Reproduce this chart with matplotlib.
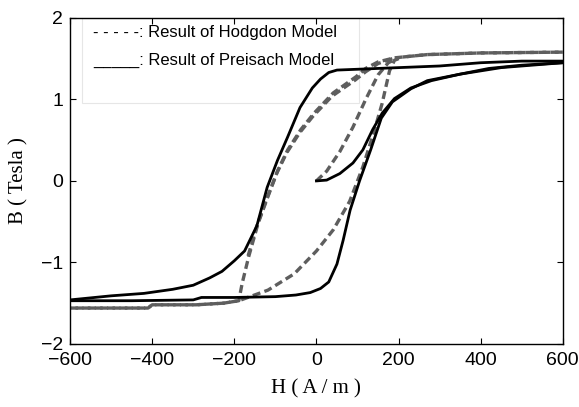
import numpy as np
import matplotlib
matplotlib.use("Agg")
import matplotlib.pyplot as plt
from matplotlib.patches import Rectangle

plt.rcParams['font.family'] = ['Liberation Sans']

# Preisach model (solid black)
pre_desc_h = [600, 500, 400, 300, 200, 100, 50, 30, 10, -10, -40, -70, -95, -120,
              -145, -175, -200, -230, -260, -300, -350, -420, -500, -600]
pre_desc_b = [1.47, 1.47, 1.45, 1.41, 1.39, 1.37, 1.36, 1.33, 1.25, 1.14, 0.90, 0.54,
              0.25, -0.08, -0.55, -0.86, -0.98, -1.11, -1.19, -1.28, -1.33, -1.38,
              -1.41, -1.46]
pre_asc_h = [-600, -450, -300, -280, -200, -100, -50, -15, 10, 30, 50, 65, 82, 105,
             132, 158, 185, 230, 270, 350, 420, 500, 600]
pre_asc_b = [-1.47, -1.47, -1.46, -1.43, -1.43, -1.42, -1.40, -1.37, -1.32, -1.24,
             -1.02, -0.73, -0.36, 0.0, 0.38, 0.77, 0.97, 1.13, 1.23, 1.31, 1.38,
             1.42, 1.45]
pre_init_h = [0, 25, 57, 89, 113, 137, 160, 190, 230, 280, 350, 450, 600]
pre_init_b = [0.0, 0.01, 0.09, 0.22, 0.38, 0.63, 0.83, 1.01, 1.14, 1.23, 1.31, 1.39, 1.45]

# Hodgdon model (grey dashed)
hod_desc_h = [600, 400, 270, 190, 150, 120, 97, 41, -6, -38, -70, -94, -118, -142,
              -165, -181, -189, -226, -293, -400, -410, -600]
hod_desc_b = [1.58, 1.57, 1.55, 1.51, 1.46, 1.38, 1.28, 1.08, 0.83, 0.63, 0.38, 0.13,
              -0.19, -0.52, -0.93, -1.26, -1.47, -1.50, -1.52, -1.52, -1.56, -1.56]
hod_desc2_h = [185, 150, 120, 95, 38, -9, -41, -73, -97, -121, -145, -167]
hod_desc2_b = [1.50, 1.44, 1.34, 1.24, 1.04, 0.79, 0.59, 0.34, 0.09, -0.22, -0.55, -0.93]
hod_asc_h = [-600, -410, -400, -293, -226, -189, -118, -54, 0, 41, 81, 113, 140, 160,
             178, 190, 210, 270, 400, 600]
hod_asc_b = [-1.56, -1.56, -1.52, -1.52, -1.50, -1.47, -1.34, -1.14, -0.86, -0.60,
             -0.25, 0.17, 0.60, 0.95, 1.35, 1.48, 1.52, 1.55, 1.57, 1.58]
hod_init_h = [0, 25, 57, 89, 120, 150, 175, 200]
hod_init_b = [0.0, 0.12, 0.36, 0.66, 1.00, 1.30, 1.45, 1.51]

xticks = [-600, -400, -200, 0, 200, 400, 600]
yticks = [-2, -1, 0, 1, 2]

fig = plt.figure(figsize=(5.79, 4.07), dpi=100)
ax = fig.add_axes([0.121, 0.155, 0.851, 0.801])

grey = '#5e5e5e'
dash = dict(color=grey, lw=2.4, ls=(0, (2.4, 1.3)))
solid = dict(color='black', lw=2.0)

ax.plot(hod_desc_h, hod_desc_b, **dash)
ax.plot(hod_desc2_h, hod_desc2_b, **dash)
ax.plot(hod_asc_h, hod_asc_b, **dash)
ax.plot(hod_init_h, hod_init_b, **dash)

ax.plot(pre_desc_h, pre_desc_b, **solid)
ax.plot(pre_asc_h, pre_asc_b, **solid)
ax.plot(pre_init_h, pre_init_b, **solid)

ax.set_xlim(-600, 600)
ax.set_ylim(-2, 2)
ax.set_xticks(xticks)
ax.set_yticks(yticks)
ax.tick_params(direction='in', top=True, right=True, length=4, width=0.8,
               labelsize=14)
ax.tick_params(axis='x', pad=6)
ax.tick_params(axis='y', pad=5)
for s in ax.spines.values():
    s.set_linewidth(1.0)

ax.set_xlabel('H ( A / m )', family='Liberation Serif', fontsize=15, labelpad=7)
ax.set_ylabel('B ( Tesla )', family='Liberation Serif', fontsize=15, labelpad=9)

# legend drawn as a text box, like the original
ax.add_patch(Rectangle((0.024, 0.739), 0.562, 0.262, transform=ax.transAxes,
                       facecolor='white', edgecolor='#e6e6e6', lw=0.8, zorder=1))
ax.text(0.047, 0.954, '- - - - -: Result of Hodgdon Model', transform=ax.transAxes,
        fontsize=12, va='center', zorder=2)
ax.text(0.047, 0.871, '_____: Result of Preisach Model', transform=ax.transAxes,
        fontsize=12, va='center', zorder=2)

fig.savefig('out.png', dpi=100)
